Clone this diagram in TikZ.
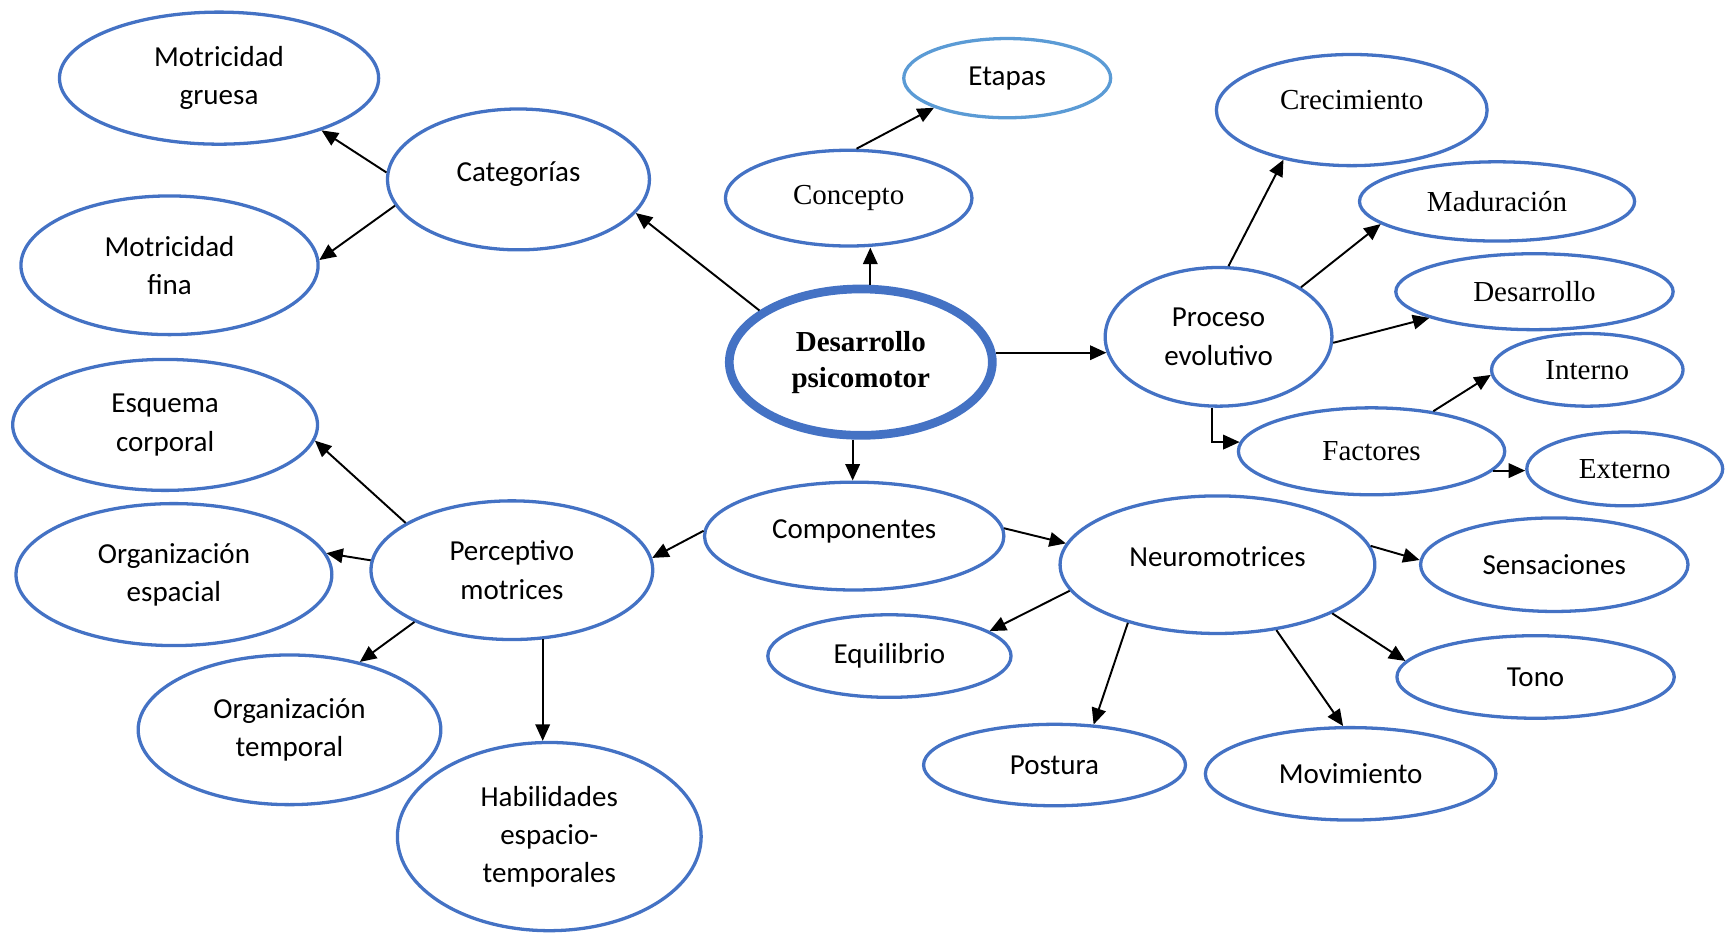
\documentclass[tikz,border=0pt]{standalone}
\usepackage{fontspec}
\setmainfont{Carlito}
\newfontfamily\romanfont{Liberation Serif}
\usetikzlibrary{shapes.geometric,arrows.meta}
\definecolor{azul}{HTML}{4472C4}
\definecolor{celeste}{HTML}{5B9BD5}

\begin{document}
\begin{tikzpicture}[x=0.02cm,y=-0.02cm,
	burbuja/.style={ellipse,draw=azul,line width=1.7pt,inner sep=0pt,align=center,font=\fontsize{15}{19.8}\selectfont},
	romana/.style={font=\romanfont\fontsize{15}{19.8}\selectfont},
	flecha/.style={-{Triangle[length=8.5pt,width=7.5pt]},line width=1pt}]
		\useasboundingbox (0,0) rectangle (1568,847);
		\node[burbuja,line width=4.5pt,minimum width=4.78cm,minimum height=2.66cm,font=\romanfont\bfseries\fontsize{15}{18.7}\selectfont] (desarrollo) at (782,329) {Desarrollo\\psicomotor};
		\node[burbuja,minimum width=5.8cm,minimum height=2.4cm] (mgruesa) at (199,71) {Motricidad\\gruesa};
		\node[burbuja,minimum width=4.76cm,minimum height=2.56cm,text height=11pt,text depth=8.6pt] (categorias) at (471,163) {Categorías};
		\node[burbuja,minimum width=5.4cm,minimum height=2.52cm] (mfina) at (154,241) {Motricidad\\fina};
		\node[burbuja,draw=celeste,minimum width=3.76cm,minimum height=1.44cm] (etapas) at (915,71) {Etapas};
		\node[burbuja,romana,minimum width=4.48cm,minimum height=1.74cm] (concepto) at (771,180) {Concepto};
		\node[burbuja,romana,minimum width=4.92cm,minimum height=2.02cm,text height=10.5pt,text depth=11.4pt] (crecimiento) at (1228,100) {Crecimiento};
		\node[burbuja,romana,minimum width=5cm,minimum height=1.44cm] (maduracion) at (1360,183) {Maduración};
		\node[burbuja,romana,minimum width=5.04cm,minimum height=1.38cm] (desarrollob) at (1394,265) {Desarrollo};
		\node[burbuja,minimum width=4.12cm,minimum height=2.52cm] (proceso) at (1107,306) {Proceso\\evolutivo};
		\node[burbuja,romana,minimum width=3.48cm,minimum height=1.32cm] (interno) at (1442,336) {Interno};
		\node[burbuja,romana,minimum width=4.84cm,minimum height=1.58cm] (factores) at (1246,410) {Factores};
		\node[burbuja,romana,minimum width=3.56cm,minimum height=1.34cm] (externo) at (1476,426) {Externo};
		\node[burbuja,minimum width=5.54cm,minimum height=2.38cm] (esquema) at (150,386) {Esquema\\corporal};
		\node[burbuja,minimum width=5.74cm,minimum height=2.58cm] (oespacial) at (158,522) {Organización\\espacial};
		\node[burbuja,minimum width=5.12cm,minimum height=2.52cm] (perceptivo) at (465,518) {Perceptivo\\motrices};
		\node[burbuja,minimum width=5.44cm,minimum height=1.96cm,text height=11pt,text depth=8.6pt] (componentes) at (776,487) {Componentes};
		\node[burbuja,minimum width=5.72cm,minimum height=2.5cm,text height=10.5pt,text depth=9pt] (neuromotrices) at (1106,513) {Neuromotrices};
		\node[burbuja,minimum width=4.86cm,minimum height=1.7cm] (sensaciones) at (1412,513) {Sensaciones};
		\node[burbuja,minimum width=4.42cm,minimum height=1.5cm] (equilibrio) at (808,596) {Equilibrio};
		\node[burbuja,minimum width=5.5cm,minimum height=2.72cm] (otemporal) at (263,663) {Organización\\temporal};
		\node[burbuja,minimum width=5.04cm,minimum height=1.5cm] (tono) at (1395,615) {Tono};
		\node[burbuja,minimum width=4.76cm,minimum height=1.48cm] (postura) at (958,695) {Postura};
		\node[burbuja,minimum width=5.28cm,minimum height=1.68cm] (movimiento) at (1227,703) {Movimiento};
		\node[burbuja,minimum width=5.52cm,minimum height=3.42cm] (habilidades) at (499,760) {Habilidades\\espacio-\\temporales};
		\draw[flecha] (desarrollo.153) -- (categorias.-16);
		\draw[flecha] (desarrollo.83) -- (desarrollo.83 |- concepto.south);
		\draw[flecha] (concepto.81) -- (etapas.202);
		\draw[flecha] (desarrollo.4) -- (proceso.188 |- desarrollo.4);
		\draw[flecha] (desarrollo.264) -- (desarrollo.264 |- componentes.north);
		\draw[flecha] (categorias.177) -- (mgruesa.-27);
		\draw[flecha] (categorias.192) -- (mfina.2);
		\draw[flecha] (proceso.82) -- (crecimiento.216);
		\draw[flecha] (proceso.31) -- (maduracion.191);
		\draw[flecha] (proceso.-3) -- (desarrollob.194);
		\draw[flecha] (proceso.265) |- (factores.176);
		\draw[flecha] (factores.33) -- (interno.183);
		\draw[flecha] (factores.-9) -- (factores.-9 -| externo.west);
		\draw[flecha] (componentes.178) -- (perceptivo.5);
		\draw[flecha] (componentes.3) -- (neuromotrices.172);
		\draw[flecha] (perceptivo.156) -- (esquema.-6);
		\draw[flecha] (perceptivo.176) -- (oespacial.8);
		\draw[flecha] (perceptivo.208) -- (otemporal.44);
		\draw[flecha] (perceptivo.294) -- (perceptivo.294 |- habilidades.north);
		\draw[flecha] (neuromotrices.7) -- (sensaciones.178);
		\draw[flecha] (neuromotrices.190) -- (equilibrio.14);
		\draw[flecha] (neuromotrices.213) -- (postura.46);
		\draw[flecha] (neuromotrices.-48) -- (movimiento.99);
		\draw[flecha] (neuromotrices.-23) -- (tono.173);
	\end{tikzpicture}
\end{document}
